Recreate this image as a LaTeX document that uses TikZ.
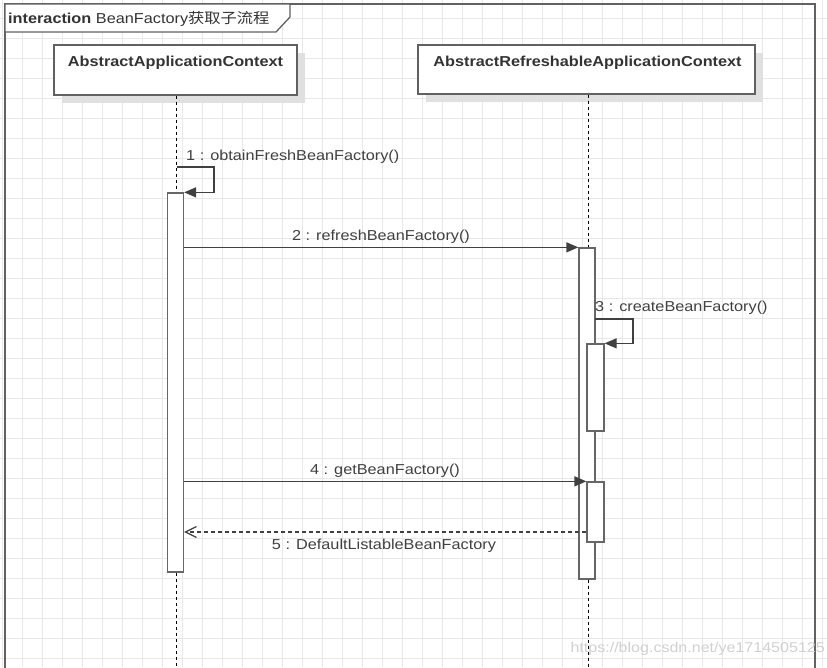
\documentclass[tikz,border=0pt]{standalone}
\usepackage{fontspec}
\setmainfont{Liberation Sans}
\newfontfamily\cjk{Noto Sans CJK SC}
\usetikzlibrary{arrows.meta,calc}
\newcommand{\hs}[1]{\scalebox{1.13}[1]{#1}}
\tikzset{
  gridline/.style={draw=black!9, line width=0.8pt},
  framel/.style={draw=black!62, line width=1.3pt},
  headbox/.style={rectangle, draw=black!62, fill=white, line width=1.3pt, inner sep=0pt},
  headshadow/.style={fill=black!12, draw=none},
  headtext/.style={font=\fontsize{14.4}{16}\selectfont\bfseries, text=black!80, inner sep=0pt},
  lbl/.style={font=\fontsize{14.4}{16}\selectfont, text=black!75, inner sep=0pt},
  actbox/.style={rectangle, draw=black!60, fill=white, line width=1.3pt, inner sep=0pt, minimum width=16pt},
  lifeline/.style={draw=black, line width=0.9pt, dash pattern=on 3pt off 3pt},
  msg/.style={draw=black!75, line width=1.3pt, -{Triangle[length=12pt,width=10pt]}},
  ret/.style={draw=black!75, line width=1.2pt, dash pattern=on 4pt off 3pt, -{Straight Barb[length=11pt,width=11pt]}},
  wmark/.style={font=\fontsize{14.2}{16}\selectfont, text=black!18, inner sep=0pt}
}
\begin{document}
\begin{tikzpicture}[x=1pt,y=-1pt]
\useasboundingbox (0,0) rectangle (827,667);
\begin{scope}
\clip (0,0) rectangle (827,667);
\fill[white] (0,0) rectangle (827,667);
% grid
\foreach \i in {0,...,41} { \draw[gridline] (2.7+20*\i,0) -- (2.7+20*\i,667); }
\foreach \j in {0,...,33} { \draw[gridline] (0,-1.7+20*\j) -- (827,-1.7+20*\j); }
% frame
\draw[framel] (5,680) -- (5,4) -- (815,4) -- (815,680);
\draw[framel, fill=white] (5,4) -- (290,4) -- (290,17) -- (276,32) -- (5,32) -- cycle;
\node[lbl, anchor=base west, text=black!80] (title) at (8,23) {\hs{\textbf{interaction} BeanFactory{\cjk 获取子流程}}};
% lifeline heads
\fill[headshadow] (62,53) rectangle (305,103);
\node[headbox, minimum width=243pt, minimum height=50pt] (h1) at (175.5,70) {};
\node[headtext, anchor=base] (t1) at (175.5,66) {\hs{AbstractApplicationContext}};
\fill[headshadow] (426,53) rectangle (763,102);
\node[headbox, minimum width=337pt, minimum height=49pt] (h2) at (586.5,69.5) {};
\node[headtext, anchor=base] (t2) at (587.5,66) {\hs{AbstractRefreshableApplicationContext}};
% activations
\node[actbox, minimum height=379pt] (a1) at (175.5,382.5) {};
\node[actbox, minimum height=331pt] (a2) at (587,413.5) {};
\node[actbox, minimum width=17pt, minimum height=87pt] (a3) at (595.5,387.5) {};
\node[actbox, minimum width=17pt, minimum height=60pt] (a4) at (595.5,512) {};
% lifelines
\coordinate (b1) at (176.5,670);
\coordinate (b2) at (588,670);
\draw[lifeline] (h1.south -| b1) -- (a1.north -| b1);
\draw[lifeline] (a1.south -| b1) -- (b1);
\draw[lifeline] (h2.south -| b2) -- (a2.north -| b2);
\draw[lifeline] (a2.south -| b2) -- (b2);
% redraw activations above lifelines
\node[actbox, minimum height=379pt] at (a1) {};
\node[actbox, minimum height=331pt] at (a2) {};
\node[actbox, minimum width=17pt, minimum height=87pt] at (a3) {};
\node[actbox, minimum width=17pt, minimum height=60pt] at (a4) {};
% messages
\coordinate (m1s) at (176.5,167);
\draw[msg] (m1s) -- (214,167) |- (a1.north east);
\node[lbl, anchor=base west] (l1) at (186,160) {\hs{1 : obtainFreshBeanFactory()}};
\draw[msg] (a1.east |- a2.north) -- (a2.north west);
\node[lbl, anchor=base] (l2) at (381,240) {\hs{2 : refreshBeanFactory()}};
\coordinate (m3s) at (595,319);
\draw[msg] (m3s) -- (633,319) |- (a3.north east);
\node[lbl, anchor=base west] (l3) at (595,311) {\hs{3 : createBeanFactory()}};
\draw[msg] (a1.east |- a4.north) -- (a4.north west);
\node[lbl, anchor=base] (l4) at (385,474) {\hs{4 : getBeanFactory()}};
\coordinate (m5) at (0,532);
\draw[ret] (a4.west |- m5) -- (a1.east |- m5);
\node[lbl, anchor=base] (l5) at (384,549) {\hs{5 : DefaultListableBeanFactory}};
% watermark
\node[wmark, anchor=base east] (wm) at (825,652) {\hs{https://blog.csdn.net/ye1714505125}};
\end{scope}
\end{tikzpicture}
\end{document}
